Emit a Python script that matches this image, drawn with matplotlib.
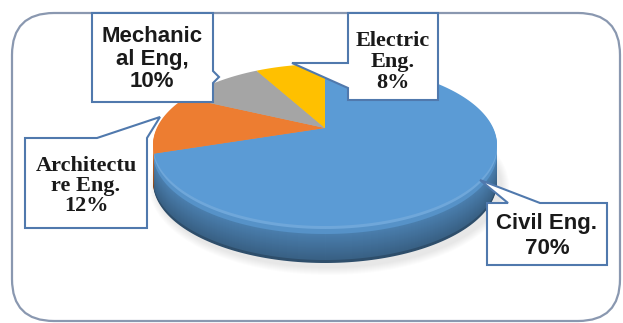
import numpy as np
import matplotlib
matplotlib.use("Agg")
import matplotlib.pyplot as plt
from matplotlib.patches import Polygon, FancyBboxPatch, Ellipse
from matplotlib.colors import to_rgb

# ---- data ----
categories = ["Civil Eng.", "Architecture Eng.", "Mechanical Eng.", "Electric Eng."]
values = [70, 12, 10, 8]
label_texts = ["Civil Eng.\n70%", "Architectu\nre Eng.\n12%", "Mechanic\nal Eng,\n10%", "Electric\nEng.\n8%"]
top_colors = ["#5B9BD5", "#ED7D31", "#A5A5A5", "#FFC000"]

W, H = 623, 323
fig = plt.figure(figsize=(W / 100, H / 100), dpi=100)
ax = fig.add_axes([0, 0, 1, 1])
ax.set_xlim(0, W)
ax.set_ylim(H, 0)
ax.axis("off")

# outer rounded frame
frame = FancyBboxPatch((12, 13), 608, 308, boxstyle="round,pad=0,rounding_size=42",
                       facecolor="white", edgecolor="#8a98b0", lw=1.6, zorder=0)
ax.add_patch(frame)

# ---- 3D pie geometry (pixel space) ----
cx, cy, a, b, c = 325, 145, 172, 81, 0.21
depth = 37
k = np.sqrt(1 - c * c)


def proj(theta_deg):
    t = np.radians(theta_deg)
    u, v = np.cos(t), np.sin(t)
    den = 1 + c * v
    xp = u * k / den
    yp = (v + c) / den
    return cx + a * xp, cy - b * yp


apex = (cx, cy - b * c)
fracs = np.array(values, dtype=float) / sum(values)
starts, ends = [], []
ang = 90.0
for f in fracs:
    starts.append(ang)
    ang -= 360 * f
    ends.append(ang)


def slice_poly(i, dy=0.0):
    th = np.linspace(starts[i], ends[i], 200)
    xs, ys = proj(th)
    pts = [(apex[0], apex[1] + dy)] + list(zip(xs, ys + dy))
    return pts


def mix(col, other, t):
    c1 = np.array(to_rgb(col)); c2 = np.array(to_rgb(other))
    return tuple(c1 * (1 - t) + c2 * t)


# soft shadow
for s in range(8):
    e = Ellipse((cx + 4, cy + depth + 4), 2 * (a + 8 - s), 2 * (b + 8 - s),
                facecolor="#000000", alpha=0.012, edgecolor="none", zorder=1)
    ax.add_patch(e)

# side layers
for d in range(depth, 0, -1):
    t = d / depth
    for i in range(len(values)):
        base = top_colors[i]
        if d <= 3:
            col = mix(base, "#ffffff", 0.12)
        elif d <= 8:
            col = mix(base, "#000000", 0.06)
        elif d >= depth - 2:
            col = mix(base, "#000000", 0.5)
        else:
            col = mix(base, "#000000", 0.12 + 0.28 * t)
        ax.add_patch(Polygon(slice_poly(i, d), closed=True, facecolor=col,
                             edgecolor="none", zorder=2))

# top surface
for i in range(len(values)):
    ax.add_patch(Polygon(slice_poly(i), closed=True, facecolor=top_colors[i],
                         edgecolor="none", zorder=3))

# ---- callout boxes ----
box_ec = "#5079ad"
civil_box = [(487, 203), (508, 203), (480, 180), (540, 203), (607, 203), (607, 265), (487, 265)]
arch_box = [(25, 138), (97, 138), (160, 117), (147, 138), (147, 228), (25, 228)]
mech_box = [(92, 13), (213, 13), (213, 71), (219, 77), (213, 83), (213, 102), (92, 102)]
elec_box = [(348, 13), (438, 13), (438, 100), (348, 100), (348, 88), (292, 63), (348, 63)]
boxes = [civil_box, arch_box, mech_box, elec_box]
for pts in boxes:
    ax.add_patch(Polygon(pts, closed=True, facecolor="white", edgecolor=box_ec,
                         lw=1.5, joinstyle="miter", zorder=5))

sans = ["Liberation Sans", "DejaVu Sans"]
serif = ["Liberation Serif", "DejaVu Serif"]
label_pos = [(547, 236), (86, 186), (152, 59), (393, 62)]
label_fonts = [sans, serif, sans, serif]
label_sizes = [16, 16, 16, 16]
label_ls = [1.2, 1.0, 1.12, 1.1]
for txt, (x, y), fam, fs, ls in zip(label_texts, label_pos, label_fonts, label_sizes, label_ls):
    ax.text(x, y, txt, ha="center", va="center", family=fam, fontsize=fs,
            fontweight="bold", color="#1a1a1a", linespacing=ls, zorder=6)

fig.savefig("out.png", dpi=100)
